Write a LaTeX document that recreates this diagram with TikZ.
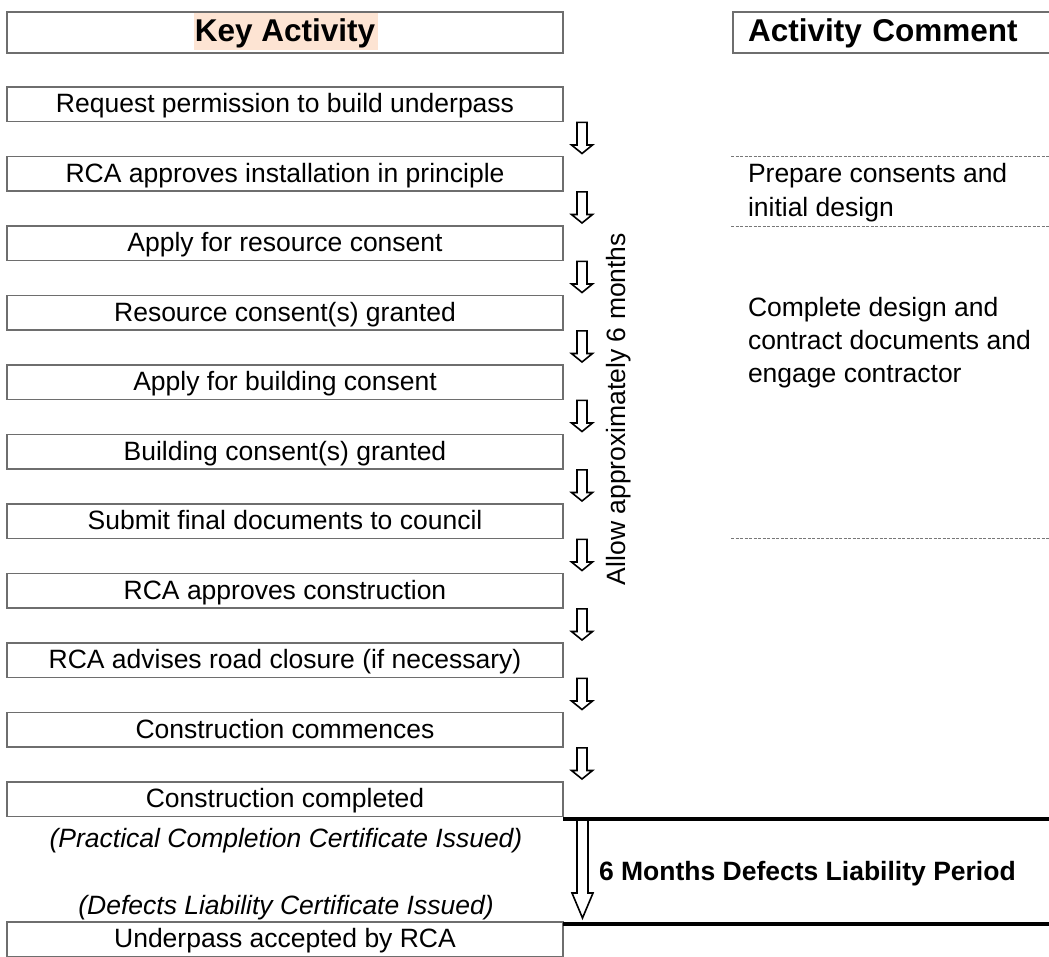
\documentclass[tikz,border=0pt]{standalone}
\usepackage{fontspec}
\setmainfont{Liberation Sans}
\usetikzlibrary{calc}
\definecolor{boxgray}{RGB}{110,110,110}
\definecolor{peach}{RGB}{253,228,211}
\definecolor{dashgray}{RGB}{120,120,120}
\newcommand\myBody{\fontsize{26.5bp}{34bp}\selectfont}
\newcommand\myHead{\fontsize{31.5bp}{38bp}\selectfont\bfseries}
\begin{document}
\begin{tikzpicture}[x=1bp,y=-1bp,
  actbox/.style={draw=boxgray, line width=1.2bp, minimum width=556bp, minimum height=34.5bp,
    inner sep=0pt, outer sep=0pt, text height=21bp, text depth=4.5bp, font=\myBody, anchor=north west},
  hdrbox/.style={draw=boxgray, line width=1.2bp, minimum height=41bp, inner sep=0pt, outer sep=0pt,
    text height=24bp, text depth=6bp, font=\myHead, anchor=north west},
  txt/.style={font=\myBody, inner sep=0pt, outer sep=0pt},
  dashline/.style={draw=dashgray, line width=1bp, dash pattern=on 3bp off 1.5bp},
  thick4/.style={line width=4bp, black},
  blockarrow/.style={draw=black, line width=1.6bp, line join=miter, fill=white},
  downarr/.pic={\draw[blockarrow] (-5,0.8) -- (5,0.8) -- (5,23.5) -- (10.5,23.5) -- (0,32) -- (-10.5,23.5) -- (-5,23.5) -- cycle;}
]
\useasboundingbox (0,0) rectangle (1049,957);
\clip (0,0) rectangle (1049,957);
\fill[white] (0,0) rectangle (1049,957);

% headers
\fill[peach] (194,13) rectangle (378,50);
\node[hdrbox, minimum width=556bp] (hk) at (7,12) {Key Activity};
\node[hdrbox, minimum width=340bp, text width=310bp, inner xsep=15bp, align=left] (hc) at (733,12) {Activity Comment};

% activity boxes
\foreach \i/\t in {1/Request permission to build underpass,
                   2/RCA approves installation in principle,
                   3/Apply for resource consent,
                   4/Resource consent(s) granted,
                   5/Apply for building consent,
                   6/Building consent(s) granted,
                   7/Submit final documents to council,
                   8/RCA approves construction,
                   9/RCA advises road closure (if necessary),
                   10/Construction commences,
                   11/Construction completed}{
  \node[actbox] (b\i) at (7,{87+69.5*(\i-1)}) {\t};
}
\node[actbox] (b12) at (7,922) {Underpass accepted by RCA};

% small arrows
\foreach \i in {1,...,10}{
  \pic at ([xshift=19bp]b\i.south east) {downarr};
}

% vertical label
\node[txt, rotate=90, anchor=base] (vt) at (625,409) {Allow approximately 6 months};

% comments
\coordinate (cl) at (731,0);
\coordinate (cr) at (1049,0);
\draw[dashline] (b2.north -| cl) -- (b2.north -| cr);
\draw[dashline] (b3.north -| cl) -- (b3.north -| cr);
\draw[dashline] (b7.south -| cl) -- (b7.south -| cr);
\node[txt, anchor=base west] (c1a) at (748,182) {Prepare consents and};
\node[txt, anchor=base west] (c1b) at (748,216) {initial design};
\node[txt, anchor=base west] (c2a) at (748,316) {Complete design and};
\node[txt, anchor=base west] (c2b) at (748,349) {contract documents and};
\node[txt, anchor=base west] (c2c) at (748,382) {engage contractor};

% defects period
\coordinate (l1s) at ($(b11.south east)+(0,2.5)$);
\coordinate (l1e) at (l1s -| cr);
\coordinate (l2s) at ($(b12.north east)+(0,2)$);
\coordinate (l2e) at (l2s -| cr);
\draw[thick4] (l1s) -- (l1e);
\draw[thick4] (l2s) -- (l2e);
\draw[blockarrow] ($(l1s)+(14,1)$) -- ($(l1s)+(25,1)$) -- ($(l1s)+(25,74)$) -- ($(l1s)+(30,74)$)
  -- ($(l1s)+(19.5,99)$) -- ($(l1s)+(9,74)$) -- ($(l1s)+(14,74)$) -- cycle;
\node[txt, font=\myBody\bfseries, anchor=base west] (dl) at (599,880) {6 Months Defects Liability Period};
\node[txt, font=\myBody\itshape, anchor=base] (pc) at (286,847) {(Practical Completion Certificate Issued)};
\node[txt, font=\myBody\itshape, anchor=base] (dc) at (286,914) {(Defects Liability Certificate Issued)};
\end{tikzpicture}
\end{document}
